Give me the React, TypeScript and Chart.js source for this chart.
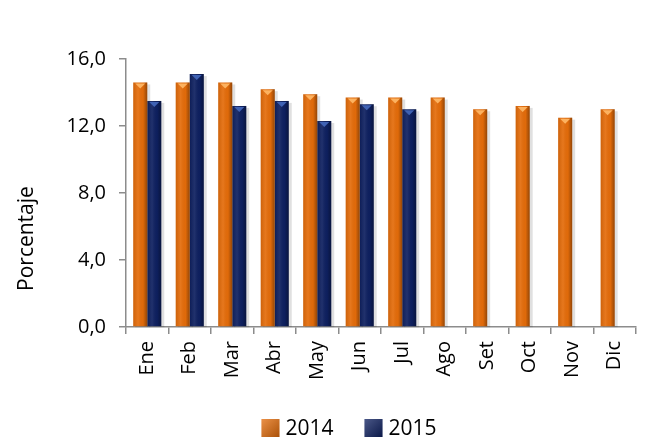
import React, { useEffect, useRef } from 'react';
import { Chart, registerables } from 'chart.js';

Chart.register(...registerables);

const months = ['Ene', 'Feb', 'Mar', 'Abr', 'May', 'Jun', 'Jul', 'Ago', 'Set', 'Oct', 'Nov', 'Dic'];
const values2014 = [14.6, 14.6, 14.6, 14.2, 13.9, 13.7, 13.7, 13.7, 13.0, 13.2, 12.5, 13.0];
const values2015: (number | null)[] = [13.5, 15.1, 13.2, 13.5, 12.3, 13.3, 13.0, null, null, null, null, null];
const seriesLabels = ['2014', '2015'];
const seriesColors = ['#E46C0A', '#0E2060'];
const triangleColors = ['#FCB260', '#3F62B4'];
const yAxisTitle = 'Porcentaje';
const yMin = 0;
const yMax = 16;
const yStep = 4;

const FONT = '"Open Sans", Lato, sans-serif';

const barDeco = {
  id: 'barDeco',
  beforeDatasetsDraw(chart: any) {
    const ctx = chart.ctx;
    ctx.save();
    chart.data.datasets.forEach((_: any, di: number) => {
      const meta = chart.getDatasetMeta(di);
      meta.data.forEach((el: any, i: number) => {
        if (chart.data.datasets[di].data[i] == null) return;
        const { x, y, width, base } = el.getProps(['x', 'y', 'width', 'base'], true);
        ctx.fillStyle = 'rgba(0,0,0,0.12)';
        ctx.fillRect(x - width / 2 + 2, y + 2, width + 1, base - y - 1);
      });
    });
    ctx.restore();
  },
  afterDatasetsDraw(chart: any) {
    const ctx = chart.ctx;
    ctx.save();
    chart.data.datasets.forEach((_: any, di: number) => {
      const meta = chart.getDatasetMeta(di);
      meta.data.forEach((el: any, i: number) => {
        if (chart.data.datasets[di].data[i] == null) return;
        const { x, y, width, base } = el.getProps(['x', 'y', 'width', 'base'], true);
        const left = x - width / 2;
        const right = x + width / 2;
        const g = ctx.createLinearGradient(left, 0, right, 0);
        g.addColorStop(0, 'rgba(0,0,0,0.10)');
        g.addColorStop(0.35, 'rgba(255,255,255,0.08)');
        g.addColorStop(0.7, 'rgba(0,0,0,0.02)');
        g.addColorStop(1, 'rgba(0,0,0,0.35)');
        ctx.fillStyle = g;
        ctx.fillRect(left, y, width, base - y);
        ctx.fillStyle = triangleColors[di];
        ctx.beginPath();
        ctx.moveTo(left + 2, y + 1);
        ctx.lineTo(right - 2, y + 1);
        ctx.lineTo(x, y + 6);
        ctx.closePath();
        ctx.fill();
      });
    });
    ctx.restore();
  },
};

const yTitlePlugin = {
  id: 'yTitlePlugin',
  afterDraw(chart: any) {
    const ctx = chart.ctx;
    const area = chart.chartArea;
    ctx.save();
    ctx.translate(27, area.top + (area.bottom - area.top) * 0.67);
    ctx.rotate(-Math.PI / 2);
    ctx.fillStyle = '#000';
    ctx.font = `21px ${FONT}`;
    ctx.textAlign = 'center';
    ctx.textBaseline = 'middle';
    ctx.fillText(yAxisTitle, 0, 0);
    ctx.restore();
  },
};

const legendPlugin = {
  id: 'customLegend',
  afterDraw(chart: any) {
    const ctx = chart.ctx;
    ctx.save();
    ctx.font = `21px ${FONT}`;
    ctx.textBaseline = 'middle';
    ctx.textAlign = 'left';
    const box = 18;
    const textGap = 6;
    const itemGap = 31;
    const widths = seriesLabels.map((l) => box + textGap + ctx.measureText(l).width);
    const total = widths.reduce((a, b) => a + b, 0) + itemGap * (seriesLabels.length - 1);
    let xPos = 349 - total / 2;
    const yTop = 419;
    seriesLabels.forEach((label, i) => {
      ctx.fillStyle = seriesColors[i];
      ctx.fillRect(xPos, yTop, box, box);
      const g = ctx.createLinearGradient(xPos, yTop, xPos + box, yTop + box);
      g.addColorStop(0, 'rgba(255,255,255,0.25)');
      g.addColorStop(1, 'rgba(0,0,0,0.25)');
      ctx.fillStyle = g;
      ctx.fillRect(xPos, yTop, box, box);
      ctx.fillStyle = '#000';
      ctx.fillText(label, xPos + box + textGap, yTop + box / 2 + 1);
      xPos += widths[i] + itemGap;
    });
    ctx.restore();
  },
};

export default function App() {
  const ref = useRef<HTMLCanvasElement | null>(null);
  useEffect(() => {
    if (!ref.current) return;
    const chart = new Chart(ref.current, {
      type: 'bar',
      data: {
        labels: months,
        datasets: [
          {
            label: seriesLabels[0],
            data: values2014,
            backgroundColor: seriesColors[0],
            categoryPercentage: 0.66,
            barPercentage: 1,
          },
          {
            label: seriesLabels[1],
            data: values2015,
            backgroundColor: seriesColors[1],
            categoryPercentage: 0.66,
            barPercentage: 1,
          },
        ],
      },
      options: {
        animation: false,
        responsive: true,
        maintainAspectRatio: false,
        layout: { padding: { top: 59, right: 8, left: 0, bottom: 0 } },
        plugins: {
          legend: { display: false },
          tooltip: { enabled: false },
        },
        scales: {
          x: {
            grid: {
              display: true,
              drawOnChartArea: false,
              tickLength: 7,
              color: '#8c8c8c',
              lineWidth: 1.5,
            },
            border: { color: '#8c8c8c', width: 1.5 },
            ticks: {
              color: '#000',
              font: { family: FONT, size: 20 },
              maxRotation: 90,
              minRotation: 90,
              padding: 7,
            },
            afterFit(scale: any) {
              scale.height = 115;
            },
          },
          y: {
            min: yMin,
            max: yMax,
            grid: {
              display: true,
              drawOnChartArea: false,
              tickLength: 7,
              color: '#8c8c8c',
              lineWidth: 1.5,
            },
            border: { color: '#8c8c8c', width: 1.5 },
            ticks: {
              stepSize: yStep,
              color: '#000',
              font: { family: FONT, size: 20 },
              padding: 13,
              callback: (v: any) => Number(v).toFixed(1).replace('.', ','),
            },
            afterFit(scale: any) {
              scale.width = 126;
            },
          },
        },
      },
      plugins: [barDeco, yTitlePlugin, legendPlugin],
    });
    return () => chart.destroy();
  }, []);
  return (
    <div style={{ position: 'fixed', left: 0, top: 0, width: 646, height: 442, background: '#fff' }}>
      <canvas ref={ref} />
    </div>
  );
}
